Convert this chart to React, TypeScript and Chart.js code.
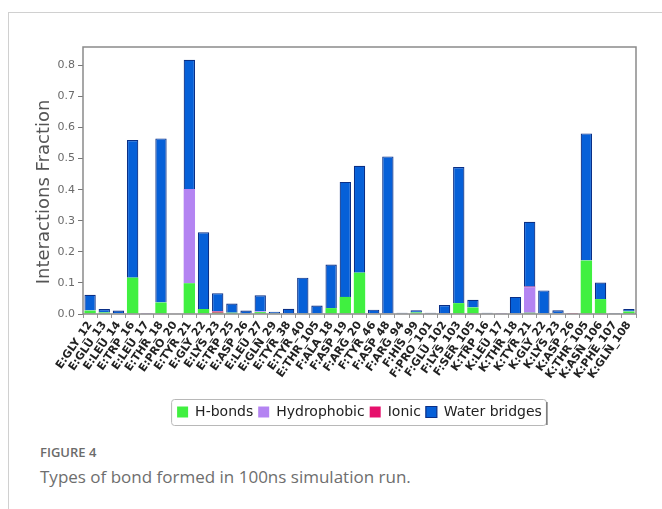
import React, { useEffect, useRef } from "react";
import { Chart, registerables } from "chart.js";

Chart.register(...registerables);

const residues = [
  "E:GLY_12", "E:GLU_13", "E:LEU_14", "E:TRP_16", "E:LEU_17", "E:THR_18", "E:PRO_20", "E:TYR_21",
  "E:GLY_22", "E:LYS_23", "E:TRP_25", "E:ASP_26", "E:LEU_27", "E:GLN_29", "E:TYR_38", "E:TYR_40",
  "E:THR_105", "F:ALA_18", "F:ASP_19", "F:ARG_20", "F:TYR_46", "F:ASP_48", "F:ARG_94", "F:HIS_99",
  "F:PRO_101", "F:GLU_102", "F:LYS_103", "F:SER_105", "K:TRP_16", "K:LEU_17", "K:THR_18", "K:TYR_21",
  "K:GLY_22", "K:LYS_23", "K:ASP_26", "K:THR_105", "K:ASN_106", "K:PHE_107", "K:GLN_108",
];

const hBonds = [
  0.011, 0.005, 0, 0.117, 0, 0.037, 0, 0.099,
  0.016, 0.004, 0.004, 0, 0.006, 0.002, 0, 0.002,
  0, 0.019, 0.055, 0.133, 0, 0, 0, 0.005,
  0, 0, 0.035, 0.021, 0, 0, 0, 0.004,
  0, 0, 0, 0.172, 0.048, 0, 0.008,
];

const hydrophobic = [
  0, 0, 0, 0, 0.003, 0, 0.002, 0.303,
  0, 0, 0, 0, 0.002, 0, 0.002, 0,
  0, 0, 0, 0, 0, 0, 0, 0,
  0, 0, 0, 0, 0, 0.003, 0, 0.082,
  0, 0, 0, 0, 0, 0, 0,
];

const ionic = [
  0, 0, 0, 0, 0, 0, 0, 0,
  0, 0.004, 0, 0, 0, 0, 0, 0,
  0, 0, 0, 0, 0, 0, 0, 0,
  0, 0, 0, 0, 0, 0, 0, 0.002,
  0, 0, 0.003, 0, 0, 0, 0,
];

const waterBridges = [
  0.051, 0.011, 0.011, 0.443, 0, 0.528, 0, 0.416,
  0.247, 0.059, 0.030, 0.011, 0.052, 0.005, 0.015, 0.115,
  0.027, 0.140, 0.370, 0.344, 0.014, 0.507, 0.004, 0.007,
  0.004, 0.029, 0.438, 0.025, 0.004, 0, 0.055, 0.209,
  0.076, 0.012, 0, 0.409, 0.053, 0.003, 0.008,
];

const yTicks = [0, 0.1, 0.2, 0.3, 0.4, 0.5, 0.6, 0.7, 0.8];

const framePlugin = {
  id: "frameBox",
  afterUpdate(chart: any) {
    // center the legend under the plot area instead of the whole canvas
    const lg = chart.legend;
    if (!lg) return;
    const plotCenter = (chart.chartArea.left + chart.chartArea.right) / 2;
    const legendCenter = (lg.left + lg.right) / 2;
    const shift = plotCenter - legendCenter;
    lg.left += shift;
    lg.right += shift;
    if (lg.legendHitBoxes) lg.legendHitBoxes.forEach((h: any) => (h.left += shift));
  },
  afterDraw(chart: any) {
    const { ctx, chartArea } = chart;
    ctx.save();
    ctx.strokeStyle = "#8a8a8a";
    ctx.lineWidth = 1.5;
    ctx.strokeRect(chartArea.left, chartArea.top, chartArea.right - chartArea.left, chartArea.bottom - chartArea.top);
    const lg = chart.legend;
    if (lg && lg.legendHitBoxes && lg.legendHitBoxes.length) {
      const boxes = lg.legendHitBoxes;
      let l = Infinity, r = -Infinity, t = Infinity, b = -Infinity;
      boxes.forEach((h: any) => {
        l = Math.min(l, h.left);
        r = Math.max(r, h.left + h.width);
        t = Math.min(t, h.top);
        b = Math.max(b, h.top + h.height);
      });
      l -= 6; r += 4; t -= 6; b += 6;
      ctx.strokeStyle = "#b8b8b8";
      ctx.lineWidth = 1;
      ctx.beginPath();
      (ctx as any).roundRect(l + 0.5, t + 0.5, r - l, b - t, 3);
      ctx.stroke();
      ctx.strokeStyle = "#777";
      ctx.lineWidth = 1.5;
      ctx.beginPath();
      ctx.moveTo(r + 1, t + 3);
      ctx.lineTo(r + 1, b);
      ctx.stroke();
    }
    ctx.restore();
  },
};

export default function App() {
  const ref = useRef<HTMLCanvasElement>(null);

  useEffect(() => {
    if (!ref.current) return;
    const chart = new Chart(ref.current, {
      type: "bar",
      data: {
        labels: residues,
        datasets: [
          { label: "H-bonds", data: hBonds, backgroundColor: "#40f040", borderWidth: 0 },
          { label: "Hydrophobic", data: hydrophobic, backgroundColor: "#b484f2", borderWidth: 0 },
          { label: "Ionic", data: ionic, backgroundColor: "#e6106c", borderWidth: 0 },
          { label: "Water bridges", data: waterBridges, backgroundColor: "#0660d8", borderColor: "#0a2f86", borderWidth: 1.2 },
        ],
      },
      options: {
        responsive: false,
        animation: false,
        layout: { padding: { left: 33, right: 26, top: 47, bottom: 7 } },
        datasets: { bar: { barPercentage: 0.8, categoryPercentage: 1 } },
        plugins: {
          legend: {
            position: "bottom",
            labels: {
              boxWidth: 11,
              boxHeight: 11,
              padding: 5,
              color: "#222",
              font: { family: "DejaVu Sans", size: 14 },
            },
          },
          tooltip: { enabled: false },
        },
        scales: {
          x: {
            stacked: true,
            grid: { display: true, drawOnChartArea: false, drawTicks: true, tickLength: 4, color: "#999" },
            border: { display: false },
            ticks: {
              autoSkip: false,
              minRotation: 55,
              maxRotation: 55,
              padding: 1,
              color: "#222",
              font: { family: "DejaVu Sans", size: 11, weight: "bold" },
            },
            afterFit(scale: any) {
              scale.height = 86;
            },
          },
          y: {
            stacked: true,
            min: 0,
            max: 0.859,
            grid: { display: true, drawOnChartArea: false, drawTicks: true, tickLength: 5, color: "#777" },
            border: { display: false },
            afterBuildTicks(scale: any) {
              scale.ticks = yTicks.map((v) => ({ value: v }));
            },
            ticks: {
              padding: 3,
              color: "#6a6a6a",
              font: { family: "DejaVu Sans", size: 11 },
              callback: (v: any) => Number(v).toFixed(1),
            },
            title: {
              display: true,
              text: "Interactions Fraction    ",
              color: "#555",
              font: { family: "DejaVu Sans", size: 18 },
              padding: { top: 1, bottom: 2 },
            },
            afterFit(scale: any) {
              scale.width = 50;
            },
          },
        },
      },
      plugins: [framePlugin],
    });
    return () => chart.destroy();
  }, []);

  return (
    <div style={{ position: "fixed", left: 0, top: 0, width: 662, height: 509, background: "#fff", overflow: "hidden" }}>
      <div
        style={{
          position: "absolute",
          left: 8,
          top: 12,
          width: 660,
          height: 500,
          borderTop: "1px solid #d0d0d0",
          borderLeft: "1px solid #d0d0d0",
        }}
      />
      <canvas ref={ref} width={662} height={436} style={{ position: "absolute", left: 0, top: 0 }} />
      <div
        style={{
          position: "absolute",
          left: 40,
          top: 446,
          fontFamily: "'Open Sans', sans-serif",
          fontWeight: 600,
          fontSize: 13,
          lineHeight: "13px",
          color: "#6b6b6b",
          whiteSpace: "nowrap",
        }}
      >
        FIGURE 4
      </div>
      <div
        style={{
          position: "absolute",
          left: 40,
          top: 468,
          fontFamily: "'Open Sans', sans-serif",
          fontSize: 17,
          lineHeight: "17px",
          color: "#6e6e6e",
          whiteSpace: "nowrap",
        }}
      >
        Types of bond formed in 100ns simulation run.
      </div>
    </div>
  );
}
